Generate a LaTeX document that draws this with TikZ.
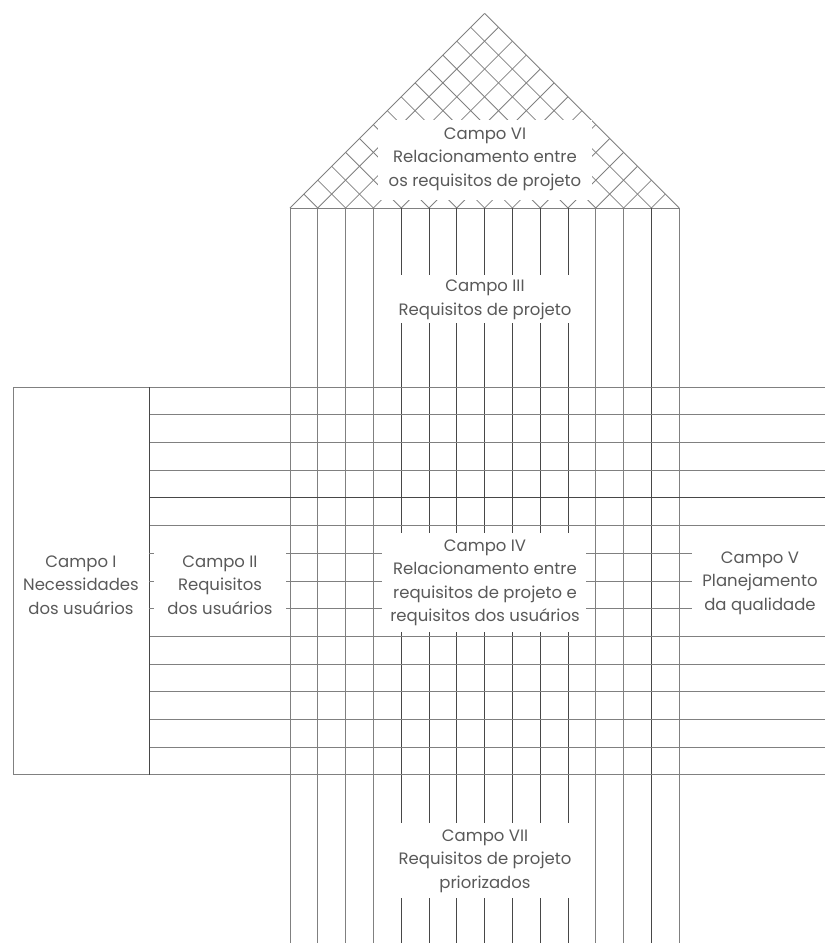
\documentclass[tikz,border=0pt]{standalone}
\usepackage{fontspec}
\setmainfont{Poppins}
\begin{document}
\begin{tikzpicture}[x=1pt,y=-1pt,line width=0.8pt,
  ln/.style={draw=black!50},
  dk/.style={draw=black!72},
  lbl/.style={align=center,text=black!65,font=\fontsize{16.5}{23.5}\selectfont,inner sep=0pt}]
\useasboundingbox (0,0) rectangle (825,943);
% roof hatch
\foreach \i in {0,...,14}{
  \pgfmathsetmacro{\xi}{290+27.8*\i}
  \draw[ln] (\xi,208) -- ({(679.2+\xi)/2},{208-(679.2-\xi)/2});
  \draw[ln] (\xi,208) -- ({(290+\xi)/2},{208-(\xi-290)/2});
}
\fill[white] (378,120) rectangle (592,200);
\draw[ln] (290,208) -- (679.2,208);
% columns
\foreach \i in {0,1,2,3,11,12,14}{
  \pgfmathsetmacro{\xi}{290+27.8*\i}
  \draw[ln] (\xi,208) -- (\xi,943);
}
\draw[dk] (651.4,208) -- (651.4,943);
\foreach \i in {4,...,10}{
  \pgfmathsetmacro{\xi}{290+27.8*\i}
  \draw[dk] (\xi,208) -- (\xi,275);
  \draw[dk] (\xi,323) -- (\xi,533);
  \draw[dk] (\xi,632) -- (\xi,823);
  \draw[dk] (\xi,898) -- (\xi,943);
}
% rows
\foreach \j in {1,2,3,5,9,10,11,12,13}{
  \pgfmathsetmacro{\yj}{387+27.7*\j}
  \draw[ln] (149,\yj) -- (825,\yj);
}
\draw[dk] (149,497.8) -- (825,497.8);
\draw[ln] (13,387) -- (825,387);
\draw[ln] (13,774.8) -- (825,774.8);
\draw[ln] (13,387) -- (13,774.8);
\draw[dk] (149,387) -- (149,774.8);
\foreach \j in {6,7,8}{
  \pgfmathsetmacro{\yj}{387+27.7*\j}
  \draw[ln] (149,\yj) -- (154,\yj);
  \draw[ln] (286,\yj) -- (382,\yj);
  \draw[ln] (586,\yj) -- (692,\yj);
}
% labels
\node[lbl] (c6) at (485,159) {Campo VI\\Relacionamento entre\\os requisitos de projeto};
\node[lbl] (c3) at (485,300) {Campo III\\Requisitos de projeto};
\node[lbl] (c1) at (81,585) {Campo I\\Necessidades\\dos usuários};
\node[lbl] (c2) at (220,585) {Campo II\\Requisitos\\dos usuários};
\node[lbl] (c4) at (485,583) {Campo IV\\Relacionamento entre\\requisitos de projeto e\\requisitos dos usuários};
\node[lbl] (c5) at (760,583) {Campo V\\Planejamento\\da qualidade};
\node[lbl] (c7) at (485,861) {Campo VII\\Requisitos de projeto\\priorizados};
\end{tikzpicture}
\end{document}
